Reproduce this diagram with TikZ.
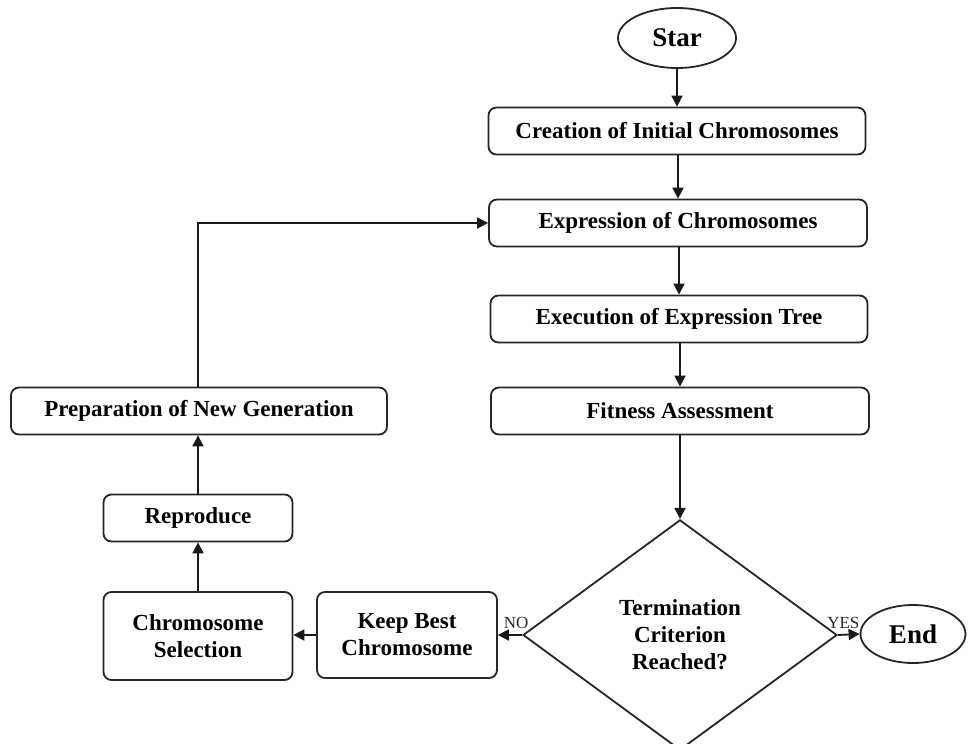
\documentclass[tikz,border=0pt]{standalone}
\usepackage{fontspec}
\setmainfont{Liberation Serif}
\usetikzlibrary{arrows.meta,shapes.geometric}
\begin{document}
\begin{tikzpicture}[x=1pt,y=-1pt,
  every node/.style={font=\bfseries\fontsize{23}{27}\selectfont, text=black},
  box/.style={draw=black!85, line width=1.8pt, rounded corners=8pt, inner sep=0pt, align=center},
  oval/.style={draw=black!85, line width=1.8pt, ellipse, inner sep=0pt, font=\bfseries\fontsize{27}{30}\selectfont},
  decision/.style={draw=black!85, line width=1.8pt, diamond, inner sep=0pt, align=center},
  arr/.style={draw=black!90, line width=1.8pt, -{Triangle[length=11pt,width=11pt]}},
  tag/.style={font=\fontsize{17}{19}\selectfont, text=black!85, inner sep=1pt}]
\useasboundingbox (0,0) rectangle (969,744);

% main column
\node[oval, minimum width=118, minimum height=60] (star) at (677,38) {Star};
\node[box, minimum width=377, minimum height=47] (create) at (677,131) {Creation of Initial Chromosomes};
\node[box, minimum width=378, minimum height=47] (express) at (678,223) {Expression of Chromosomes};
\node[box, minimum width=377, minimum height=47] (exec) at (679,319) {Execution of Expression Tree};
\node[box, minimum width=378, minimum height=47] (fit) at (680,411) {Fitness Assessment};
\node[decision, minimum width=314, minimum height=216, text width=160] (term) at (680,635)
  {Termination\\ Criterion\\ Reached?};
\node[oval, minimum width=105, minimum height=58] (end) at (913,634) {End};

% loop column
\node[box, minimum width=180, minimum height=86] (keep) at (407,635) {Keep Best\\ Chromosome};
\node[box, minimum width=189, minimum height=88] (sel) at (198,636) {Chromosome\\ Selection};
\node[box, minimum width=189, minimum height=47] (repr) at (198,518) {Reproduce};
\node[box, minimum width=376, minimum height=47] (prep) at (199,411) {Preparation of New Generation};

% connectors
\draw[arr] (star) -- (star |- create.north);
\draw[arr] (create.south -| express) -- (express);
\draw[arr] (express.south -| exec) -- (exec);
\draw[arr] (exec.south -| fit) -- (fit);
\draw[arr] (fit.south) -- (term.north);
\draw[arr] (term.east) -- (end.west) node[tag, pos=0.25, above=4pt] {YES};
\draw[arr] (term.west) -- (keep.east) node[tag, pos=0.25, above=4pt] {NO};
\draw[arr] (keep.west) -- (keep.west -| sel.east);
\draw[arr] (sel) -- (repr);
\draw[arr] (repr) -- (repr |- prep.south);
\draw[arr] (prep.north -| repr) |- (express.west);
\end{tikzpicture}
\end{document}
